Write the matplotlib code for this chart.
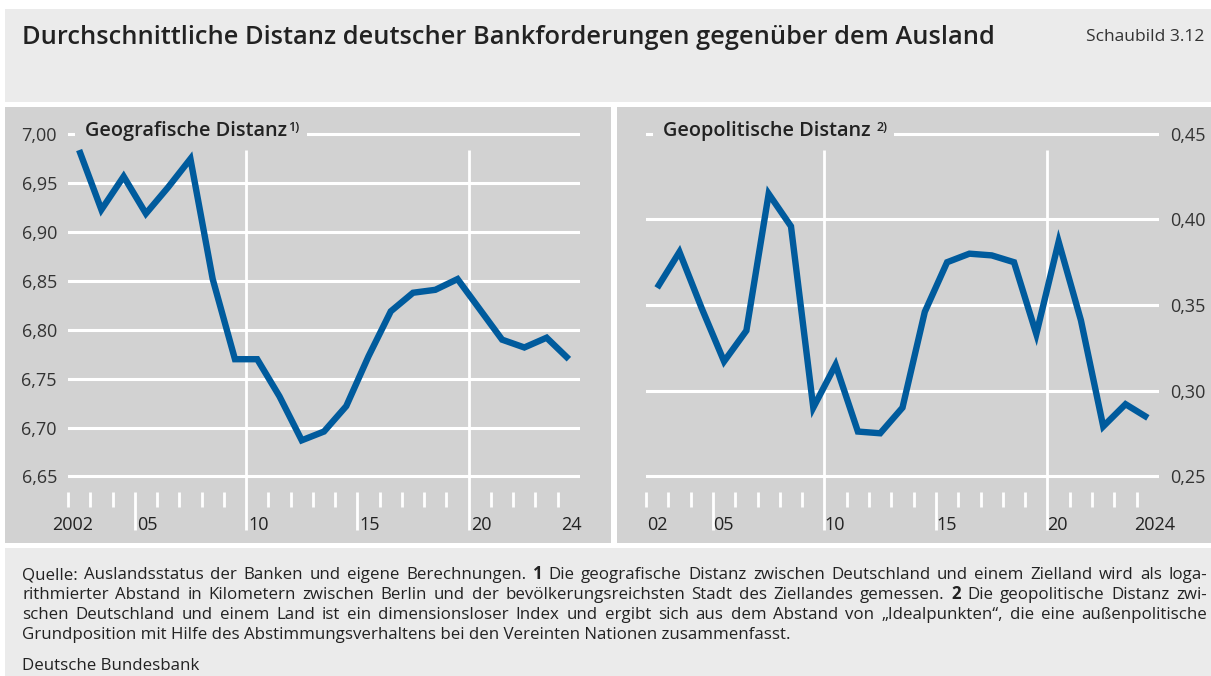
import matplotlib
matplotlib.use('Agg')
import matplotlib.pyplot as plt
from matplotlib.patches import Rectangle

plt.rcParams['font.family'] = ['Open Sans', 'DejaVu Sans']

# data
years = list(range(2002, 2025))
geo_distance = [6.984, 6.923, 6.957, 6.919, 6.946, 6.975, 6.852, 6.770, 6.770, 6.732, 6.687, 6.696,
                6.722, 6.773, 6.819, 6.838, 6.841, 6.852, 6.821, 6.790, 6.782, 6.792, 6.770]
geopol_distance = [0.360, 0.381, 0.348, 0.317, 0.335, 0.415, 0.396, 0.290, 0.315, 0.276, 0.275, 0.290,
                   0.346, 0.375, 0.380, 0.379, 0.375, 0.333, 0.387, 0.341, 0.279, 0.292, 0.284]
geo_yticks = [6.65, 6.70, 6.75, 6.80, 6.85, 6.90, 6.95, 7.00]
geopol_yticks = [0.25, 0.30, 0.35, 0.40, 0.45]
xlabel_years = [2002, 2005, 2010, 2015, 2020, 2024]
geo_xlabels = ['2002', '05', '10', '15', '20', '24']
geopol_xlabels = ['02', '05', '10', '15', '20', '2024']

title = 'Durchschnittliche Distanz deutscher Bankforderungen gegenüber dem Ausland'
footnote = [
    'Quelle: Auslandsstatus der Banken und eigene Berechnungen. 1 Die geografische Distanz zwischen Deutschland und einem Zielland wird als loga-',
    'rithmierter Abstand in Kilometern zwischen Berlin und der bevölkerungsreichsten Stadt des Ziellandes gemessen. 2 Die geopolitische Distanz zwi-',
    'schen Deutschland und einem Land ist ein dimensionsloser Index und ergibt sich aus dem Abstand von „Idealpunkten“, die eine außenpolitische',
    'Grundposition mit Hilfe des Abstimmungsverhaltens bei den Vereinten Nationen zusammenfasst.',
]

BLUE = '#005b9d'
PANEL = '#d2d2d2'
LIGHT = '#ebebeb'
TXT = '#222222'

W, H = 1211, 676
fig = plt.figure(figsize=(W / 100, H / 100), dpi=100)
fig.patch.set_facecolor('white')
renderer = fig.canvas.get_renderer()


def fx(x):
    return x / W


def fy(y):
    return 1 - y / H


def box(x0, y0, x1, y1, color):
    fig.add_artist(Rectangle((fx(x0), fy(y1)), (x1 - x0) / W, (y1 - y0) / H,
                             transform=fig.transFigure, facecolor=color, edgecolor='none', zorder=0))


# background boxes
box(5, 9, W, 102, LIGHT)
box(5, 107, 611, 543, PANEL)
box(617, 107, W, 543, PANEL)
box(5, 548, W, H, LIGHT)

fig.text(fx(22), fy(44), title, fontsize=18.3, fontweight='semibold', color=TXT, va='baseline')
fig.text(fx(1204), fy(41), 'Schaubild 3.12', fontsize=12.5, color='#333333', ha='right', va='baseline')


def frac(y):
    # pixel row -> axes fraction (axes span rows 110..540)
    return (540 - y) / 430


def panel(left, right, values, ylim, yticks, xlabels, label_pos, subtitle, sup, sup_gap, right_axis):
    ax = fig.add_axes([fx(left), fy(540), (right - left) / W, 430 / H])
    ax.set_facecolor('none')
    for s in ax.spines.values():
        s.set_visible(False)
    ax.set_xlim(2002, 2025)
    ax.set_ylim(*ylim)
    ax.set_xticks([])
    ax.set_yticks(yticks)
    ax.set_yticklabels([f'{v:.2f}'.replace('.', ',') for v in yticks])
    ax.tick_params(axis='y', length=0, pad=8, labelsize=13, labelcolor='#333333')
    if right_axis:
        ax.yaxis.tick_right()
    ax.grid(axis='y', color='white', linewidth=2.2)
    ax.set_axisbelow(True)

    xt = ax.get_xaxis_transform()
    ticks = range(2002, 2026)
    short = [t for t in ticks if t % 5 != 0]
    ax.vlines(short, frac(507), frac(492), transform=xt, color='white', linewidth=2, clip_on=False)
    ax.vlines([2005, 2015], frac(530), frac(492), transform=xt, color='white', linewidth=2, clip_on=False)
    ax.vlines([2010, 2020], frac(530), frac(150), transform=xt, color='white', linewidth=2, clip_on=False)

    for yr, lab, (xpos, ha) in zip(xlabel_years, xlabels, label_pos):
        ax.text(xpos, frac(525), lab, transform=xt, ha=ha, va='center', fontsize=13, color=TXT)

    ax.plot([y + 0.5 for y in years], values, color=BLUE, linewidth=4.6,
            solid_joinstyle='miter', solid_capstyle='butt', zorder=5)

    t = ax.text(17 / (right - left), frac(136), subtitle, transform=ax.transAxes,
                fontsize=14.3, fontweight='semibold', color=TXT, va='baseline', zorder=3)
    s = ax.annotate(sup, xy=(1, 1), xycoords=t, xytext=(sup_gap, 0), textcoords='offset points',
                    ha='left', va='top', fontsize=9, fontweight='semibold', color=TXT, zorder=3)
    # mask the top gridline behind the subtitle
    b1 = t.get_window_extent(renderer)
    b2 = s.get_window_extent(renderer)
    inv = ax.transAxes.inverted()
    (x0, y0) = inv.transform((b1.x0 - 10, b1.y0 - 6))
    (x1, y1) = inv.transform((b2.x1 + 7, b1.y1 + 4))
    ax.add_patch(Rectangle((x0, y0), x1 - x0, y1 - y0, transform=ax.transAxes,
                           facecolor=PANEL, edgecolor='none', zorder=2))
    return ax


panel(68, 580, geo_distance, (6.585, 7.025), geo_yticks, geo_xlabels,
      [(2001.3, 'left'), (2005.1, 'left'), (2010.1, 'left'), (2015.1, 'left'), (2020.1, 'left'), (2025.1, 'right')],
      'Geografische Distanz', '1)', 1, False)
panel(646, 1159, geopol_distance, (0.2126, 0.464), geopol_yticks, geopol_xlabels,
      [(2002.05, 'left'), (2005.0, 'left'), (2010.0, 'left'), (2015.0, 'left'), (2020.0, 'left'), (2025.75, 'right')],
      'Geopolitische Distanz', '2)', 4, True)

# footnote, block-justified like the original
FS = 12.2
baselines = [579, 599, 619, 639]
for i, (line, yb) in enumerate(zip(footnote, baselines)):
    if i == len(footnote) - 1:
        fig.text(fx(22), fy(yb), line, fontsize=FS, color=TXT, va='baseline')
        continue
    words = line.split(' ')
    items = [fig.text(0, fy(yb), w, fontsize=FS, color=TXT, va='baseline',
                      fontweight='bold' if w in ('1', '2') else 'normal') for w in words]
    widths = [it.get_window_extent(renderer).width for it in items]
    gap = (1207 - 22 - sum(widths)) / (len(words) - 1)
    x = 22
    for it, wd in zip(items, widths):
        it.set_x(fx(x))
        x += wd + gap

fig.text(fx(22), fy(670), 'Deutsche Bundesbank', fontsize=FS, color=TXT, va='baseline')

fig.savefig('out.png', dpi=100)
